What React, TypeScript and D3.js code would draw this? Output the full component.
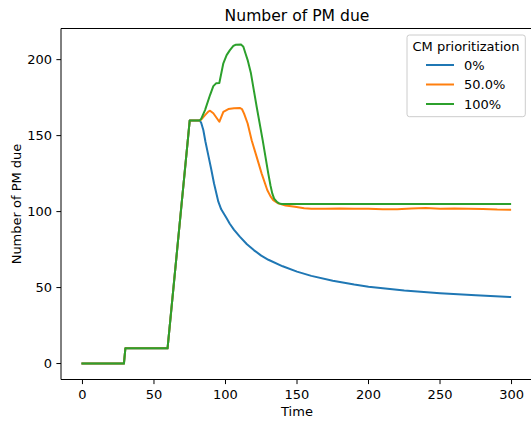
import React from "react";
import * as d3 from "d3";

const commonStart: [number, number][] = [
  [0, 0], [29, 0], [30, 10], [59.5, 10], [75, 160], [82, 160],
];

const series0: [number, number][] = [
  ...commonStart,
  [83, 158.5], [84.5, 153.7], [86, 146], [88, 137], [90, 128], [92, 118.5],
  [95, 106.5], [97, 101.5], [100.8, 95.6], [103, 92], [106, 88], [110, 83.5],
  [115, 78.5], [120, 74.5], [125, 71], [130, 68.3], [140, 64], [150, 60.5],
  [160, 57.7], [175, 54.5], [190, 52], [200, 50.6], [225, 48], [250, 46.3],
  [275, 45], [299, 43.8],
];

const series50: [number, number][] = [
  ...commonStart,
  [83, 160.5], [85.7, 163.5], [88, 165.8], [89.2, 166.4], [91.5, 164.7],
  [95.7, 159.1], [98.5, 165.7], [102, 167.5], [106, 168], [110, 168.2],
  [111.5, 167.5], [113, 164.5], [115.5, 158], [118.3, 147], [121.8, 136],
  [125.3, 125], [129.2, 114.2], [131.5, 110], [133.4, 107.6], [136.9, 105.4],
  [142, 104], [148.6, 103.2], [155, 102.2], [160, 101.8], [170, 101.9],
  [180, 102.0], [190, 101.8], [200, 101.9], [210, 101.5], [220, 101.6],
  [230, 102.1], [240, 102.3], [250, 101.9], [260, 102.0], [270, 101.8],
  [280, 101.7], [290, 101.3], [299, 101.2],
];

const series100: [number, number][] = [
  ...commonStart,
  [83, 161], [85.7, 166.8], [89.2, 176.7], [91.5, 182.6], [93.4, 184.4],
  [95.7, 184.6], [98.5, 197.6], [100.8, 203], [103.1, 206.3], [105.5, 209],
  [107, 209.8], [111, 209.9], [112.5, 208.5], [114, 204], [115.5, 199.7],
  [117.8, 191], [121.8, 169], [126, 147], [129.9, 125.2], [131.5, 117],
  [132.7, 112], [134, 108.5], [135.8, 106.5], [137.5, 105.4], [139.3, 105.0],
  [150, 105], [200, 105], [299, 105],
];

const seriesNames = ["0%", "50.0%", "100%"];
const seriesData = [series0, series50, series100];
const colors = ["#1f77b4", "#ff7f0e", "#2ca02c"];
const xTicks = [0, 50, 100, 150, 200, 250, 300];
const yTicks = [0, 50, 100, 150, 200];

const W = 531;
const H = 423;
const left = 61;
const right = 533;
const top = 28.5;
const bottom = 379.5;
const font = "DejaVu Sans, sans-serif";

export default function App() {
  const x = d3.scaleLinear().domain([-15, 315]).range([left, right]);
  const y = d3.scaleLinear().domain([-10.5, 220.5]).range([bottom, top]);
  const line = d3
    .line<[number, number]>()
    .x((d) => x(d[0]))
    .y((d) => y(d[1]));

  return (
    <svg
      width={W}
      height={H}
      style={{ position: "absolute", left: 0, top: 0 }}
      fontFamily={font}
    >
      <rect x={0} y={0} width={W} height={H} fill="#fff" />
      <defs>
        <clipPath id="plotclip">
          <rect x={left} y={top} width={right - left} height={bottom - top} />
        </clipPath>
      </defs>
      <g clipPath="url(#plotclip)">
        {seriesData.map((s, i) => (
          <path
            key={i}
            d={line(s) || ""}
            fill="none"
            stroke={colors[i]}
            strokeWidth={2}
            strokeLinejoin="round"
            strokeLinecap="square"
          />
        ))}
      </g>
      {/* spines */}
      <line x1={left} x2={left} y1={top} y2={bottom} stroke="#000" strokeWidth={1} />
      <line x1={left} x2={right} y1={bottom} y2={bottom} stroke="#000" strokeWidth={1} />
      <line x1={left} x2={right} y1={top} y2={top} stroke="#000" strokeWidth={1} />
      <line x1={right} x2={right} y1={top} y2={bottom} stroke="#000" strokeWidth={1} />
      {/* x ticks */}
      {xTicks.map((t) => (
        <g key={"x" + t}>
          <line x1={x(t)} x2={x(t)} y1={bottom} y2={bottom + 4.6} stroke="#000" strokeWidth={1} />
          <text x={x(t)} y={bottom + 19} textAnchor="middle" fontSize={13} fill="#000">
            {t}
          </text>
        </g>
      ))}
      {/* y ticks */}
      {yTicks.map((t) => (
        <g key={"y" + t}>
          <line x1={left - 4.6} x2={left} y1={y(t)} y2={y(t)} stroke="#000" strokeWidth={1} />
          <text x={left - 9} y={y(t) + 4.7} textAnchor="end" fontSize={13} fill="#000">
            {t}
          </text>
        </g>
      ))}
      <text x={(left + right) / 2} y={416} textAnchor="middle" fontSize={13} fill="#000">
        Time
      </text>
      <text
        transform={`translate(21, ${(top + bottom) / 2}) rotate(-90)`}
        textAnchor="middle"
        fontSize={13}
        fill="#000"
      >
        Number of PM due
      </text>
      <text x={(left + right) / 2} y={21} textAnchor="middle" fontSize={15.6} fill="#000">
        Number of PM due
      </text>
      {/* legend */}
      <g>
        <rect
          x={407}
          y={35}
          width={118.3}
          height={81.7}
          rx={2.5}
          fill="#fff"
          fillOpacity={0.8}
          stroke="#cccccc"
          strokeWidth={1}
        />
        <text x={466} y={50.5} textAnchor="middle" fontSize={13} fill="#000">
          CM prioritization
        </text>
        {seriesNames.map((n, i) => (
          <g key={n}>
            <line
              x1={426}
              x2={454}
              y1={65 + i * 19.5}
              y2={65 + i * 19.5}
              stroke={colors[i]}
              strokeWidth={2}
            />
            <text x={464} y={65 + i * 19.5 + 4.7} fontSize={13} fill="#000">
              {n}
            </text>
          </g>
        ))}
      </g>
    </svg>
  );
}
